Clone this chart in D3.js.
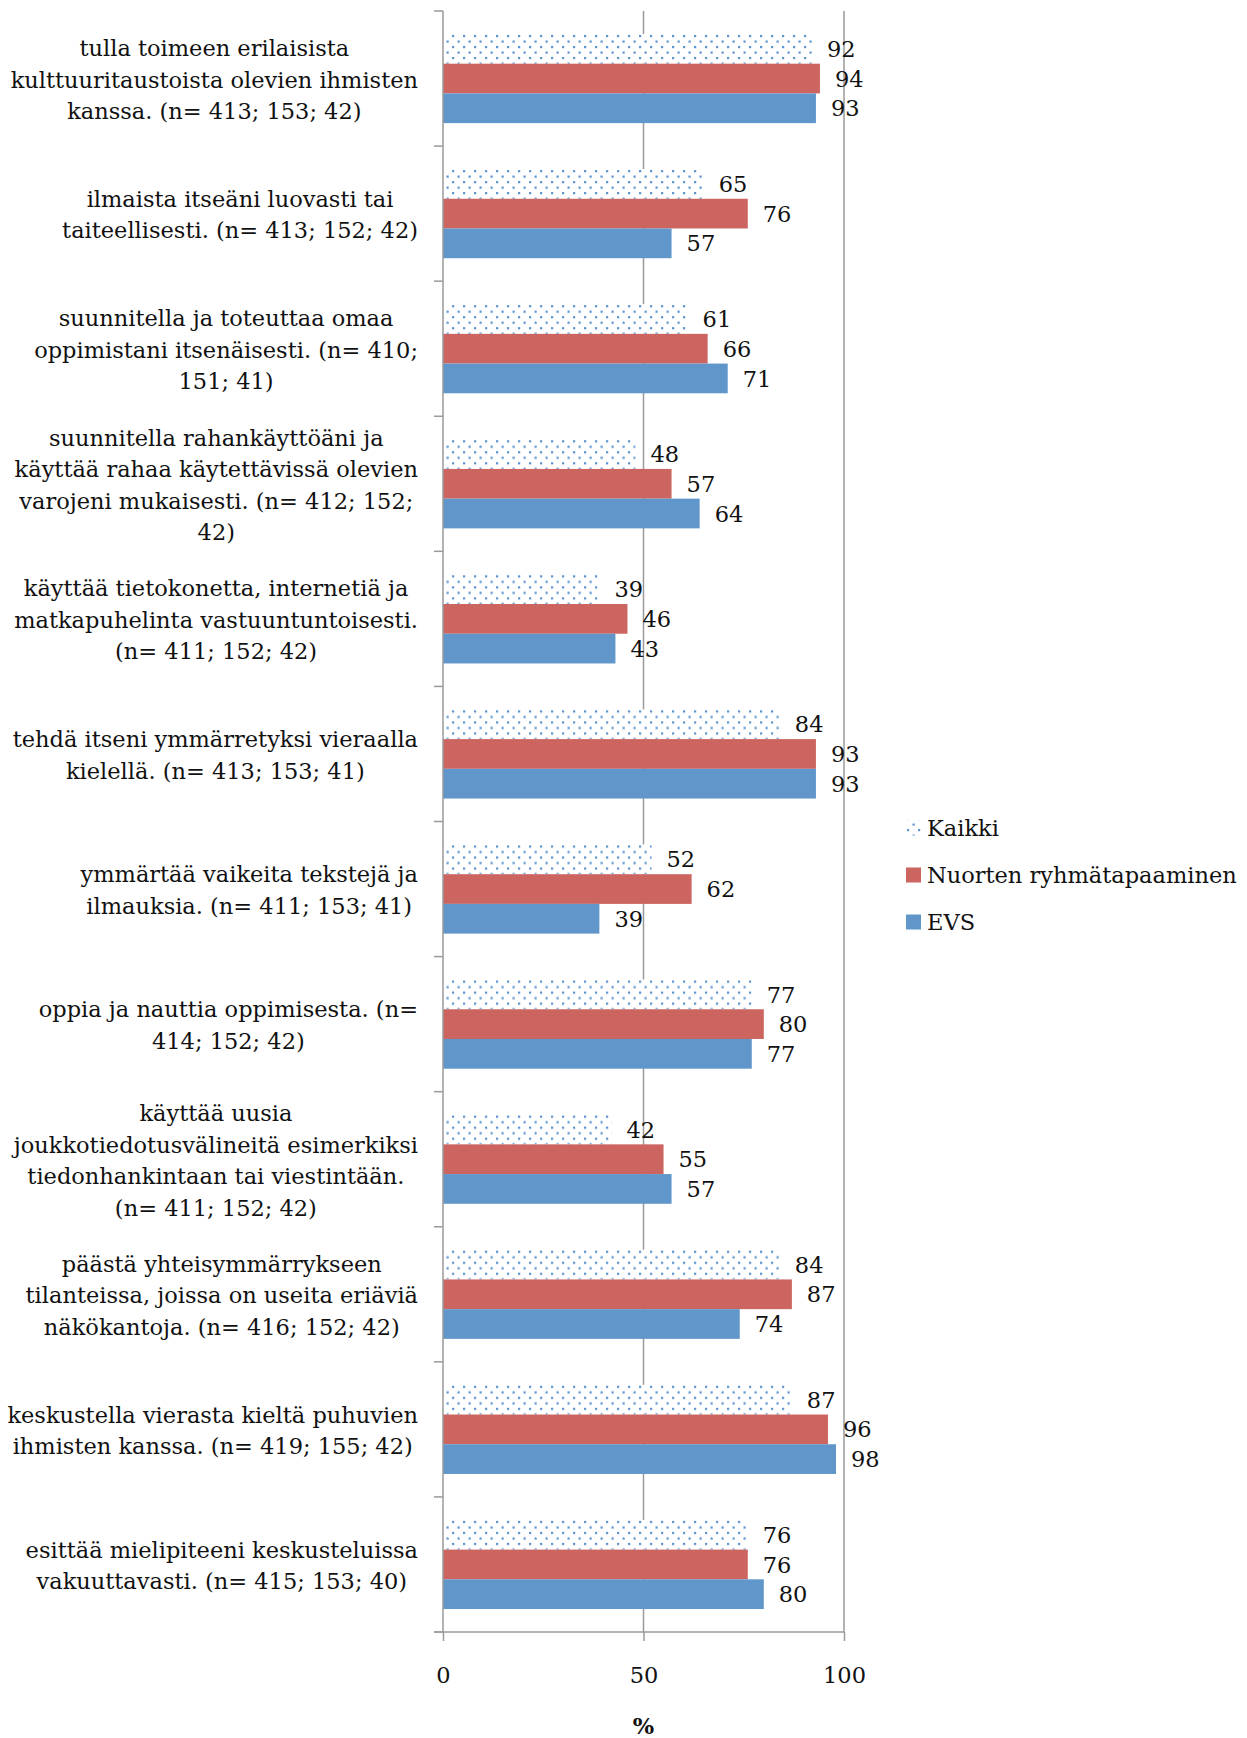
<!DOCTYPE html>
<html><head><meta charset="utf-8">
<script src="https://cdn.jsdelivr.net/npm/d3@7"></script>
<style>body{margin:0;background:#fff}svg{display:block}text{font-family:"DejaVu Serif",serif;fill:#111}</style>
</head><body><svg id="c" width="1247" height="1738"></svg>
<script>
const categories = [
  ["tulla toimeen erilaisista","kulttuuritaustoista olevien ihmisten","kanssa. (n= 413; 153; 42)"],
  ["ilmaista itseäni luovasti tai","taiteellisesti. (n= 413; 152; 42)"],
  ["suunnitella ja toteuttaa omaa","oppimistani itsenäisesti. (n= 410;","151; 41)"],
  ["suunnitella rahankäyttöäni ja","käyttää rahaa käytettävissä olevien","varojeni mukaisesti. (n= 412; 152;","42)"],
  ["käyttää tietokonetta, internetiä ja","matkapuhelinta vastuuntuntoisesti.","(n= 411; 152; 42)"],
  ["tehdä itseni ymmärretyksi vieraalla","kielellä. (n= 413; 153; 41)"],
  ["ymmärtää vaikeita tekstejä ja","ilmauksia. (n= 411; 153; 41)"],
  ["oppia ja nauttia oppimisesta. (n=","414; 152; 42)"],
  ["käyttää uusia","joukkotiedotusvälineitä esimerkiksi","tiedonhankintaan tai viestintään.","(n= 411; 152; 42)"],
  ["päästä yhteisymmärrykseen","tilanteissa, joissa on useita eriäviä","näkökantoja. (n= 416; 152; 42)"],
  ["keskustella vierasta kieltä puhuvien","ihmisten kanssa. (n= 419; 155; 42)"],
  ["esittää mielipiteeni keskusteluissa","vakuuttavasti. (n= 415; 153; 40)"]
];
const seriesNames = ["Kaikki","Nuorten ryhmätapaaminen","EVS"];
const kaikki  = [92,65,61,48,39,84,52,77,42,84,87,76];
const nuorten = [94,76,66,57,46,93,62,80,55,87,96,76];
const evs     = [93,57,71,64,43,93,39,77,57,74,98,80];
const xTicks = [0,50,100];
const axisTitle = "%";

const series = [kaikki, nuorten, evs];
const colors = ["url(#dots)", "#CC6560", "#6096CA"];
const fontSize = 22.5;

const svg = d3.select("#c");
const defs = svg.append("defs");
const pat = defs.append("pattern").attr("id","dots").attr("patternUnits","userSpaceOnUse")
  .attr("width",11).attr("height",11);
pat.append("rect").attr("width",11).attr("height",11).attr("fill","#fff");
pat.append("rect").attr("x",1).attr("y",1).attr("width",2.2).attr("height",2.2).attr("fill","#5B93CF");
pat.append("rect").attr("x",6.5).attr("y",6.5).attr("width",2.2).attr("height",2.2).attr("fill","#5B93CF");

const x = d3.scaleLinear().domain([0,100]).range([443,844]);
const y = d3.scaleBand().domain(d3.range(categories.length)).range([11,1632]).paddingInner(0.34).paddingOuter(0.17);
const yb = d3.scaleBand().domain([0,1,2]).range([0,y.bandwidth()]);
const step = y.step();

// gridlines
svg.append("g").selectAll("line").data(xTicks.filter(d=>d>0)).join("line")
  .attr("x1",d=>x(d)).attr("x2",d=>x(d)).attr("y1",11).attr("y2",1632)
  .attr("stroke","#9a9a9a").attr("stroke-width",1.5);

// bars
const groups = svg.append("g").selectAll("g").data(categories).join("g")
  .attr("transform",(d,i)=>`translate(0,${y(i)})`);
series.forEach((s,si)=>{
  groups.append("rect")
    .attr("x",x(0)).attr("y",yb(si)).attr("height",yb.bandwidth())
    .attr("width",(d,i)=>x(s[i])-x(0)).attr("fill",colors[si]);
  groups.append("text")
    .attr("x",(d,i)=>x(s[i])+15).attr("y",yb(si)+yb.bandwidth()/2).attr("dy","0.36em")
    .attr("font-size",fontSize).text((d,i)=>s[i]);
});

// y axis line + ticks
svg.append("line").attr("x1",x(0)).attr("x2",x(0)).attr("y1",11).attr("y2",1632).attr("stroke","#9a9a9a").attr("stroke-width",1.5);
const yTickPos = d3.range(categories.length+1).map(i=>11+i*step);
svg.append("g").selectAll("line").data(yTickPos).join("line")
  .attr("x1",x(0)-9).attr("x2",x(0)).attr("y1",d=>d).attr("y2",d=>d).attr("stroke","#9a9a9a").attr("stroke-width",1.5);

// x axis
const xAxis = svg.append("g").attr("transform","translate(0,1632)")
  .call(d3.axisBottom(x).tickValues(xTicks).tickSize(9).tickSizeOuter(0).tickPadding(26));
xAxis.select(".domain").attr("stroke","#9a9a9a").attr("stroke-width",1.5).attr("d",`M${x(0)-9},0H${x(100)}`);
xAxis.selectAll(".tick line").attr("stroke","#9a9a9a").attr("stroke-width",1.5);
xAxis.selectAll(".tick text").attr("font-size",fontSize).attr("font-family","DejaVu Serif, serif").attr("fill","#111");
svg.append("text").attr("x",x(50)).attr("y",1734).attr("text-anchor","middle").attr("font-size",fontSize).attr("font-weight","bold").text(axisTitle);

// category labels: block right-aligned at 418, lines centered in block
const lineH = 31.5;
const lab = svg.append("g");
categories.forEach((lines,i)=>{
  const g = lab.append("g");
  const cy = y(i)+y.bandwidth()/2;
  const texts = lines.map((l,k)=>g.append("text").attr("font-size",fontSize)
      .attr("y",cy+1+(k-(lines.length-1)/2)*lineH).attr("dy","0.36em").attr("text-anchor","middle").text(l));
  const w = d3.max(texts, t=>t.node().getComputedTextLength());
  texts.forEach(t=>t.attr("x",418-w/2));
});

// legend
const legY = [828,875,922];
const leg = svg.append("g").selectAll("g").data(seriesNames).join("g")
  .attr("transform",(d,i)=>`translate(906,${legY[i]})`);
leg.append("rect").attr("x",0).attr("y",-7.5).attr("width",15).attr("height",15).attr("fill",(d,i)=>colors[i]);
leg.append("text").attr("x",21).attr("dy","0.36em").attr("font-size",fontSize).text(d=>d);
</script></body></html>
